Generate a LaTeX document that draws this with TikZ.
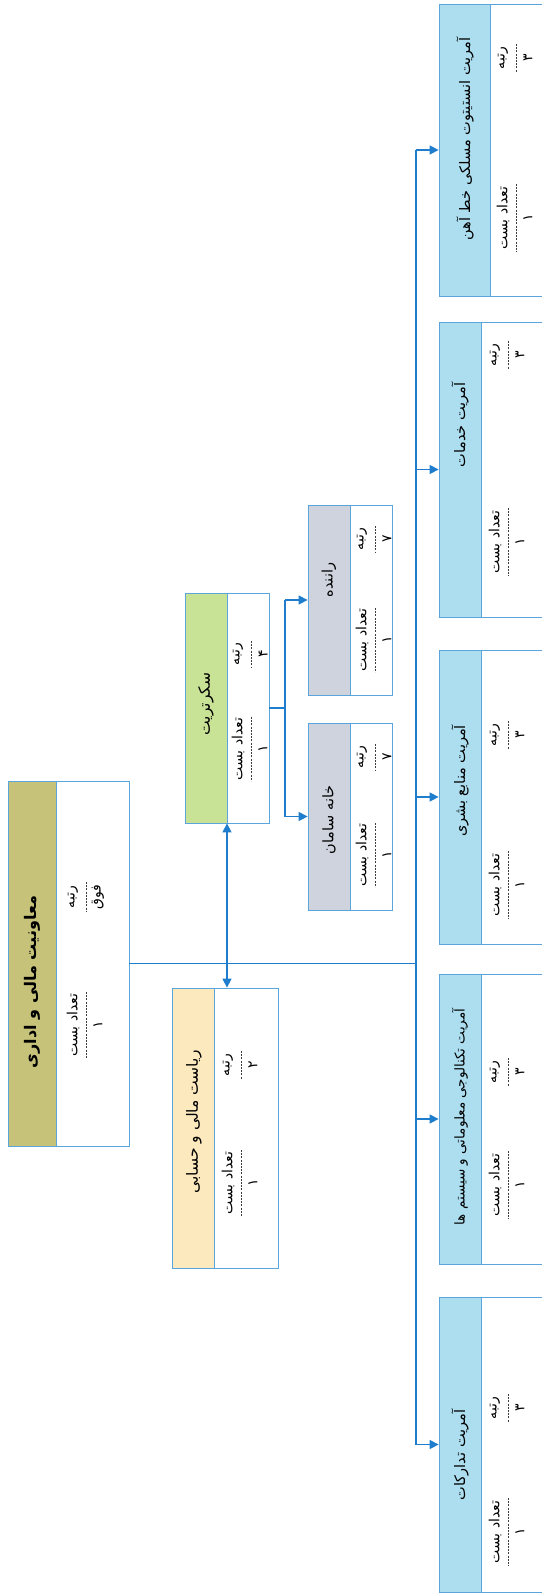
\documentclass[tikz,border=0pt]{standalone}
\usepackage{fontspec}
\usetikzlibrary{arrows.meta,fit}
\TeXXeTstate=1
\newfontfamily\arabicfont[Script=Arabic]{DejaVu Sans}
\definecolor{bordercol}{RGB}{90,165,220}
\definecolor{linecol}{RGB}{30,125,205}
\definecolor{bandolive}{RGB}{198,194,122}
\definecolor{bandpeach}{RGB}{252,233,190}
\definecolor{bandgreen}{RGB}{200,226,150}
\definecolor{bandgray}{RGB}{206,211,222}
\definecolor{bandcyan}{RGB}{172,222,240}
\definecolor{dashcol}{RGB}{60,60,60}
\newcommand{\orgbox}[7]{%
  \fill[#7] (#2,#3) rectangle (#6,#5);
  \node[boxframe, fit={(#2,#3) (#4,#5)}] (#1) {};
  \draw[frameline] (#6,#3) -- (#6,#5);
}
\newcommand{\orgcol}[6]{%
  \node[lbl] (#1-l) at (#2,#3) {#4};
  \draw[dashline] (#2+13,#3-#6) -- (#2+13,#3+#6);
  \node[lbl] (#1-v) at (#2+25,#3) {#5};
}
\tikzset{
  boxframe/.style={draw=bordercol, line width=0.8pt, inner sep=0pt},
  frameline/.style={draw=bordercol, line width=0.8pt},
  lbl/.style={rotate=90, inner sep=0pt, font=\arabicfont\fontsize{14}{16}\selectfont},
  ttl/.style={rotate=90, inner sep=0pt, font=\arabicfont\fontsize{14.5}{17}\selectfont},
  dashline/.style={draw=dashcol, line width=0.7pt, dash pattern=on 2pt off 1.2pt},
  conn/.style={draw=linecol, line width=1.4pt},
  tip/.style={-{Triangle[length=9pt,width=9pt]}},
}
\begin{document}
\begin{tikzpicture}[x=1pt,y=-1pt]
\useasboundingbox (0,0) rectangle (541,1595);
\fill[white] (0,0) rectangle (541,1595);

% main box
\orgbox{main}{8}{781}{129}{1146}{56}{bandolive}
\node[ttl, font=\arabicfont\bfseries\fontsize{16}{19}\selectfont] (main-t) at (32,982) {\beginR معاونیت مالی و اداری\endR};
\orgcol{main-r}{73}{897}{\beginR رتبه\endR}{\beginR فوق\endR}{15}
\orgcol{main-c}{73}{1025}{\beginR تعداد بست\endR}{\beginR ۱\endR}{33}

% riyasat
\orgbox{riy}{172}{988}{278}{1268}{214}{bandpeach}
\node[ttl, font=\arabicfont\fontsize{15.5}{18}\selectfont] (riy-t) at (194,1122) {\beginR ریاست مالی و حسابی\endR};
\orgcol{riy-r}{228}{1065}{\beginR رتبه\endR}{\beginR ۲\endR}{14}
\orgcol{riy-c}{228}{1183}{\beginR تعداد بست\endR}{\beginR ۱\endR}{33}

% secretariat
\orgbox{sec}{185}{593}{269}{823}{227}{bandgreen}
\node[ttl, font=\arabicfont\fontsize{15.5}{18}\selectfont] (sec-t) at (206,704) {\beginR سکرتریت\endR};
\orgcol{sec-r}{238}{654}{\beginR رتبه\endR}{\beginR ۴\endR}{13}
\orgcol{sec-c}{238}{749}{\beginR تعداد بست\endR}{\beginR ۱\endR}{32}

% driver
\orgbox{drv}{308}{505}{392}{695}{350}{bandgray}
\node[ttl] (drv-t) at (329,580) {\beginR راننده\endR};
\orgcol{drv-r}{362}{539}{\beginR رتبه\endR}{\beginR ۷\endR}{13}
\orgcol{drv-c}{362}{640}{\beginR تعداد بست\endR}{\beginR ۱\endR}{32}

% khana saman
\orgbox{kh}{308}{723}{392}{910}{350}{bandgray}
\node[ttl] (kh-t) at (329,820) {\beginR خانه سامان\endR};
\orgcol{kh-r}{362}{757}{\beginR رتبه\endR}{\beginR ۷\endR}{13}
\orgcol{kh-c}{362}{855}{\beginR تعداد بست\endR}{\beginR ۱\endR}{32}

% right column
\orgbox{r1}{439}{4}{545}{296}{490}{bandcyan}
\node[ttl] (r1-t) at (465,139) {\beginR آمریت انستیتوت مسلکی خط آهن\endR};
\orgcol{r1-r}{503}{58}{\beginR رتبه\endR}{\beginR ۳\endR}{14}
\orgcol{r1-c}{503}{218}{\beginR تعداد بست\endR}{\beginR ۱\endR}{34}

\orgbox{r2}{439}{322}{545}{617}{481}{bandcyan}
\node[ttl] (r2-t) at (460,425) {\beginR آمریت خدمات\endR};
\orgcol{r2-r}{495}{355}{\beginR رتبه\endR}{\beginR ۳\endR}{14}
\orgcol{r2-c}{495}{542}{\beginR تعداد بست\endR}{\beginR ۱\endR}{34}

\orgbox{r3}{439}{650}{545}{944}{481}{bandcyan}
\node[ttl] (r3-t) at (460,781) {\beginR آمریت منابع بشری\endR};
\orgcol{r3-r}{495}{735}{\beginR رتبه\endR}{\beginR ۳\endR}{14}
\orgcol{r3-c}{495}{885}{\beginR تعداد بست\endR}{\beginR ۱\endR}{34}

\orgbox{r4}{439}{974}{545}{1264}{481}{bandcyan}
\node[ttl, font=\arabicfont\fontsize{13.5}{16}\selectfont] (r4-t) at (460,1117) {\beginR آمریت تکنالوجی معلوماتی و سیستم ها\endR};
\orgcol{r4-r}{495}{1072}{\beginR رتبه\endR}{\beginR ۳\endR}{14}
\orgcol{r4-c}{495}{1185}{\beginR تعداد بست\endR}{\beginR ۱\endR}{34}

\orgbox{r5}{439}{1297}{545}{1592}{481}{bandcyan}
\node[ttl] (r5-t) at (460,1455) {\beginR آمریت تدارکات\endR};
\orgcol{r5-r}{495}{1408}{\beginR رتبه\endR}{\beginR ۳\endR}{14}
\orgcol{r5-c}{495}{1532}{\beginR تعداد بست\endR}{\beginR ۱\endR}{34}

% connectors
\coordinate (vx) at (416,0);
\coordinate (fk) at (285,0);
\draw[conn] (main.east) -- (main.east -| vx);
\draw[conn] (vx |- r1.west) -- (vx |- r5.west);
\foreach \b in {r1,r2,r3,r4,r5} {
  \draw[conn,tip] (vx |- \b.west) -- (\b.west);
}
\draw[conn,{Triangle[length=9pt,width=9pt]}-{Triangle[length=9pt,width=9pt]}] (sec.south) -- (sec.south |- riy.north);
\draw[conn] (sec.east) -- (sec.east -| fk);
\draw[conn] (fk |- drv.west) -- (fk |- kh.west);
\draw[conn,tip] (fk |- drv.west) -- (drv.west);
\draw[conn,tip] (fk |- kh.west) -- (kh.west);
\end{tikzpicture}
\end{document}
